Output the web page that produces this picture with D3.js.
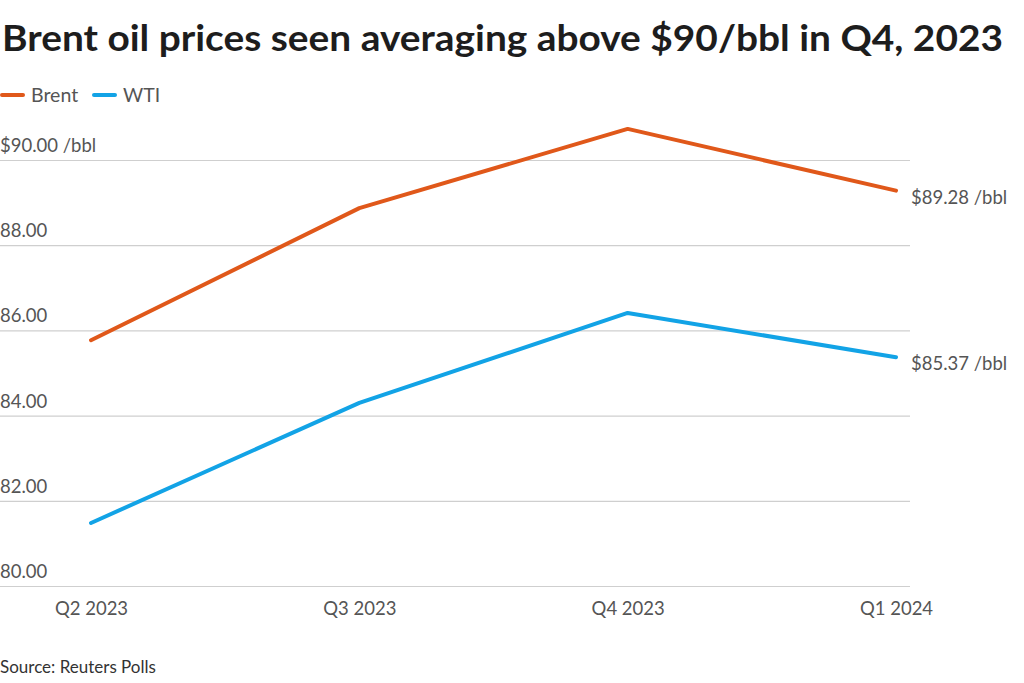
<!DOCTYPE html>
<html><head><meta charset="utf-8">
<script src="https://cdn.jsdelivr.net/npm/d3@7"></script>
<style>body{margin:0;background:#fff;}svg{display:block;}</style>
</head><body>
<svg id="chart" width="1024" height="683"></svg>
<script>
const categories = ["Q2 2023", "Q3 2023", "Q4 2023", "Q1 2024"];
const brent = [85.77, 88.87, 90.73, 89.28];
const wti = [81.48, 84.30, 86.41, 85.37];
const yTicks = [80, 82, 84, 86, 88, 90];
const seriesNames = ["Brent", "WTI"];
const colors = ["#e0581a", "#12a3e6"];

const font = "'Source Sans Pro', Lato, 'Noto Sans', sans-serif";
const svg = d3.select("#chart");

const x = d3.scalePoint().domain(categories).range([91, 896]);
const y = d3.scaleLinear().domain([80, 90]).range([586, 160]);

svg.append("text").attr("x", 2).attr("y", 51)
  .attr("font-family", font).attr("font-weight", 700).attr("font-size", 36)
  .attr("fill", "#1d1d1d").attr("textLength", 1001).attr("lengthAdjust", "spacingAndGlyphs")
  .text("Brent oil prices seen averaging above $90/bbl in Q4, 2023");

// legend
const leg = svg.append("g");
const legX = [0, 92];
seriesNames.forEach((n, i) => {
  leg.append("line").attr("x1", legX[i] + 2).attr("x2", legX[i] + 23).attr("y1", 95).attr("y2", 95)
    .attr("stroke", colors[i]).attr("stroke-width", 4).attr("stroke-linecap", "round");
  leg.append("text").attr("x", legX[i] + 31).attr("y", 102).attr("font-family", font)
    .attr("font-size", 19.5).attr("fill", "#555").text(n);
});

// gridlines
const yAxis = d3.axisLeft(y).tickValues(yTicks).tickSize(-910).tickFormat("");
const gy = svg.append("g").call(yAxis);
gy.select(".domain").remove();
gy.selectAll(".tick line").attr("stroke", "#cfcfcf").attr("stroke-width", 1.2);

svg.append("g").selectAll("text").data(yTicks).join("text")
  .attr("x", 0).attr("y", d => y(d) - 8)
  .attr("font-family", font).attr("font-size", 18.5).attr("fill", "#555")
  .text(d => d === 90 ? "$" + d.toFixed(2) + " /bbl" : d.toFixed(2));

// x axis
const xAxis = d3.axisBottom(x).tickSize(0).tickPadding(0);
const gx = svg.append("g").attr("transform", "translate(0,602)").call(xAxis);
gx.select(".domain").remove();
gx.selectAll(".tick text").attr("font-family", font).attr("font-size", 18.5).attr("fill", "#555")
  .attr("dy", "0.71em");

// lines
const line = d3.line().x((d, i) => x(categories[i])).y(d => y(d));
[brent, wti].forEach((s, i) => {
  svg.append("path").datum(s).attr("d", line).attr("fill", "none")
    .attr("stroke", colors[i]).attr("stroke-width", 4).attr("stroke-linejoin", "round").attr("stroke-linecap", "round");
  svg.append("text").attr("x", 911).attr("y", y(s[s.length - 1]) + 13)
    .attr("font-family", font).attr("font-size", 18.5).attr("fill", "#555")
    .text("$" + s[s.length - 1].toFixed(2) + " /bbl");
});

svg.append("text").attr("x", 0).attr("y", 673).attr("font-family", font).attr("font-size", 17)
  .attr("fill", "#333").text("Source: Reuters Polls");
</script>
</body></html>
